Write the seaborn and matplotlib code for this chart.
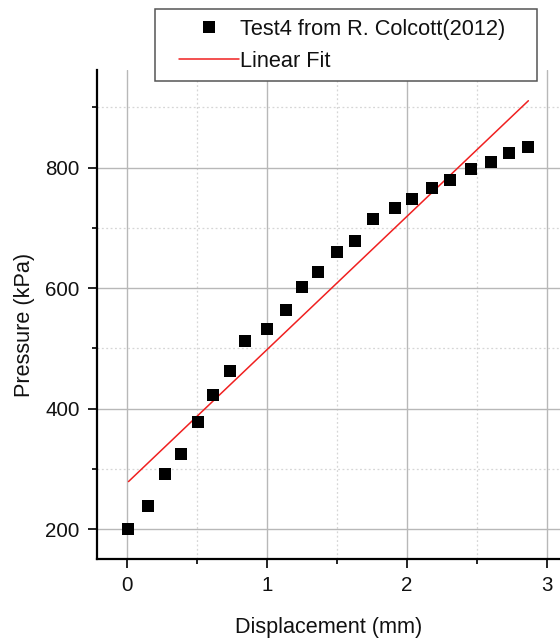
import numpy as np
import pandas as pd
import matplotlib
matplotlib.use("Agg")
import matplotlib.pyplot as plt
import seaborn as sns
from matplotlib.lines import Line2D
from matplotlib.legend_handler import HandlerLine2D
from matplotlib.ticker import MultipleLocator, FixedLocator

# Measured load–displacement points (Test4, R. Colcott 2012)
displacement_mm = [0.01, 0.148, 0.27, 0.383, 0.508, 0.617, 0.732, 0.839, 1.0,
                   1.133, 1.247, 1.365, 1.497, 1.628, 1.758, 1.911, 2.038,
                   2.181, 2.309, 2.459, 2.6, 2.732, 2.867]
pressure_kpa = [200, 239, 291, 324, 378.5, 423, 463, 512, 532,
                563, 602.5, 626, 660, 679, 715, 733, 748,
                766, 779, 797, 809, 824.6, 834]

# Linear fit line end points
fit_displacement_mm = [0.01, 2.867]
fit_pressure_kpa = [279, 911]

x_ticks = [0, 1, 2, 3]
y_ticks = [200, 400, 600, 800]
series_labels = ["Test4 from R. Colcott(2012)", "Linear Fit"]

sns.set_theme(style="white")
plt.rcParams["font.family"] = ["Liberation Sans", "DejaVu Sans"]

W, H = 560, 641
fig = plt.figure(figsize=(W / 100, H / 100), dpi=100)
ax_left, ax_right, ax_top, ax_bottom = 97, 561, 70, 559
ax = fig.add_axes([ax_left / W, 1 - ax_bottom / H,
                   (ax_right - ax_left) / W, (ax_bottom - ax_top) / H])

points = pd.DataFrame({"Displacement": displacement_mm, "Pressure": pressure_kpa})
fit = pd.DataFrame({"Displacement": fit_displacement_mm, "Pressure": fit_pressure_kpa})

line_color = "#f02020"
marker_side = 8.0  # points

sns.lineplot(data=fit, x="Displacement", y="Pressure", color=line_color,
             linewidth=1.1, ax=ax, zorder=3, errorbar=None, legend=False)
sns.scatterplot(data=points, x="Displacement", y="Pressure", marker="s",
                s=marker_side ** 2, color="black", linewidth=0, ax=ax,
                zorder=4, legend=False)

ax.set_xlim(-0.215, 3.1)
ax.set_ylim(150.5, 962)

ax.xaxis.set_major_locator(FixedLocator(x_ticks))
ax.xaxis.set_minor_locator(MultipleLocator(0.5))
ax.yaxis.set_major_locator(FixedLocator(y_ticks))
ax.yaxis.set_minor_locator(MultipleLocator(100))
ax.set_xticklabels([str(t) for t in x_ticks])
ax.set_yticklabels([str(t) for t in y_ticks])

ax.set_axisbelow(True)
ax.grid(which="major", color="#b8b8b8", linewidth=1.0, linestyle="-")
ax.grid(which="minor", color="#d6d6d6", linewidth=0.9, linestyle=(0, (1.5, 2.0)))

for side in ("top", "right"):
    ax.spines[side].set_visible(False)
for side in ("left", "bottom"):
    ax.spines[side].set_color("black")
    ax.spines[side].set_linewidth(1.6)

ax.tick_params(which="major", direction="out", length=6.5, width=1.2,
               color="black", pad=6, labelsize=14.8, labelcolor="#111111",
               bottom=True, left=True)
ax.tick_params(which="minor", direction="out", length=3.5, width=1.2,
               color="black", bottom=True, left=True)

ax.set_xlabel("Displacement (mm)", fontsize=15.6, color="#111111")
ax.set_ylabel("Pressure (kPa)", fontsize=15.6, color="#111111")
ax_h = ax_bottom - ax_top
ax_w = ax_right - ax_left
ax.xaxis.set_label_coords(0.5, -(628 - ax_bottom) / ax_h)
ax.xaxis.label.set_va("center")
ax.yaxis.set_label_coords(-(ax_left - 24.7) / ax_w, (ax_bottom - 324.7) / ax_h)
ax.yaxis.label.set_va("center")

# Legend handles styled like the plotted series
h_pts = Line2D([], [], linestyle="none", marker="s", markersize=marker_side,
               markerfacecolor="black", markeredgewidth=0)
h_line = Line2D([], [], color=line_color, linewidth=1.1)
leg_fs = 15.7
fs_px = leg_fs * 100 / 72
pad = 14 / fs_px
leg = fig.legend(
    [h_pts, h_line], series_labels,
    loc="upper left",
    bbox_to_anchor=(155 / W, 1 - 9.3 / H, (536.5 - 155) / W, 0),
    bbox_transform=fig.transFigure, mode="expand", borderaxespad=0,
    fontsize=leg_fs, handlelength=74 / fs_px, handletextpad=0.08,
    borderpad=0.44, labelspacing=0.5, numpoints=1,
    fancybox=False, framealpha=1, edgecolor="#555555",
    handler_map={Line2D: HandlerLine2D(xpad=pad)},
)
leg.get_frame().set_linewidth(1.1)
for t in leg.get_texts():
    t.set_color("#111111")

fig.savefig("out.png", dpi=100)
